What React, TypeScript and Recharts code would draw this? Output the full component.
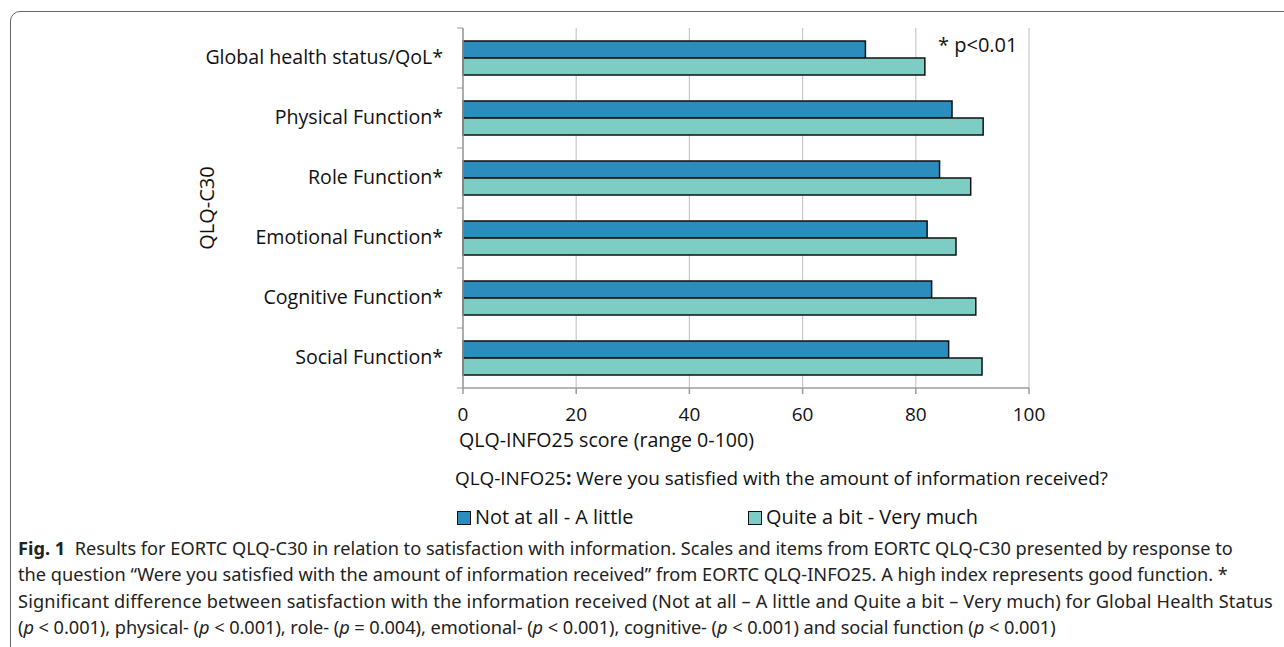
import React from 'react';
import { Bar, BarChart, CartesianGrid, XAxis, YAxis } from 'recharts';

// QLQ-C30 scales, top to bottom
const scales = [
  'Global health status/QoL*',
  'Physical Function*',
  'Role Function*',
  'Emotional Function*',
  'Cognitive Function*',
  'Social Function*',
];
// mean scores by answer to the INFO25 satisfaction item
const notAtAll = [71.1, 86.4, 84.2, 82.0, 82.8, 85.8];
const quiteABit = [81.6, 91.9, 89.7, 87.1, 90.6, 91.7];
const xTicks = [0, 20, 40, 60, 80, 100];

const data = scales.map((name, i) => ({ name, low: notAtAll[i], high: quiteABit[i] }));

const DARK = '#2b8cbe';
const LIGHT = '#7ecdc4';
const AXIS_GRAY = '#9c9c9c';
const FONT = '"Open Sans", "Noto Sans", sans-serif';

const CHART_W = 1100;
const CHART_H = 440;
const TOP = 28;
const AXIS_X = 463;
const X_AXIS_H = 52;
const BAND = (CHART_H - TOP - X_AXIS_H) / scales.length;

function ScaleTick(props: any) {
  const { x, y, payload, index } = props;
  const top = y - BAND / 2;
  return (
    <g>
      <line x1={AXIS_X - 6} x2={AXIS_X} y1={top} y2={top} stroke={AXIS_GRAY} />
      {index === scales.length - 1 && (
        <line x1={AXIS_X - 6} x2={AXIS_X} y1={top + BAND} y2={top + BAND} stroke={AXIS_GRAY} />
      )}
      <text x={x} y={y} dy="0.32em" textAnchor="end" fontSize={19.6} fill="#111" fontFamily={FONT}>
        {payload.value}
      </text>
    </g>
  );
}

function Swatch({ color }: { color: string }) {
  return (
    <span
      style={{
        display: 'inline-block',
        width: 12,
        height: 12,
        background: color,
        border: '1px solid #111',
        marginRight: 4,
        verticalAlign: -1,
      }}
    />
  );
}

export default function App() {
  return (
    <div
      style={{
        position: 'absolute',
        left: 0,
        top: 0,
        width: 1284,
        height: 647,
        overflow: 'hidden',
        background: '#fff',
        fontFamily: FONT,
        color: '#111',
      }}
    >
      <div
        style={{
          position: 'absolute',
          left: 10,
          top: 11,
          width: 1400,
          height: 800,
          border: '1px solid #666',
          borderRadius: 10,
        }}
      />
      <div style={{ position: 'absolute', left: 0, top: 0 }}>
        <BarChart
          width={CHART_W}
          height={CHART_H}
          data={data}
          layout="vertical"
          margin={{ top: TOP, right: CHART_W - 1029, left: 0, bottom: 0 }}
          barGap={0}
        >
          <CartesianGrid horizontal={false} stroke="#c8c8c8" strokeWidth={1.2} />
          <XAxis
            type="number"
            domain={[0, 100]}
            ticks={xTicks}
            height={X_AXIS_H}
            stroke={AXIS_GRAY}
            strokeWidth={1.5}
            tickSize={6}
            tickMargin={14}
            tick={{ fontSize: 19, fill: '#111', fontFamily: FONT }}
          />
          <YAxis
            type="category"
            dataKey="name"
            width={AXIS_X}
            stroke={AXIS_GRAY}
            strokeWidth={1.5}
            tickLine={false}
            tickSize={6}
            tickMargin={14}
            tick={<ScaleTick />}
          />
          <Bar dataKey="low" fill={DARK} stroke="#111" strokeWidth={1.5} barSize={17} isAnimationActive={false} />
          <Bar dataKey="high" fill={LIGHT} stroke="#111" strokeWidth={1.5} barSize={17} isAnimationActive={false} />
        </BarChart>
      </div>

      <div
        style={{
          position: 'absolute',
          left: 207 - 50,
          top: 208 - 13,
          width: 100,
          textAlign: 'center',
          fontSize: 20,
          lineHeight: '26px',
          transform: 'rotate(-90deg)',
        }}
      >
        QLQ-C30
      </div>

      <div style={{ position: 'absolute', left: 938, top: 32, fontSize: 20, lineHeight: '26px' }}>* p&lt;0.01</div>

      <div style={{ position: 'absolute', left: 459, top: 427, fontSize: 19.6, lineHeight: '26px' }}>
        QLQ-INFO25 score (range 0-100)
      </div>

      <div style={{ position: 'absolute', left: 455, top: 466, fontSize: 18.9, lineHeight: '24px' }}>
        QLQ-INFO25<b>:</b> Were you satisfied with the amount of information received?
      </div>

      <div style={{ position: 'absolute', left: 457, top: 505, fontSize: 19.9, lineHeight: '24px' }}>
        <Swatch color={DARK} />
        Not at all - A little
      </div>
      <div style={{ position: 'absolute', left: 748, top: 505, fontSize: 19.9, lineHeight: '24px' }}>
        <Swatch color={LIGHT} />
        Quite a bit - Very much
      </div>

      <div
        style={{
          position: 'absolute',
          left: 18,
          top: 535,
          width: 1266,
          fontFamily: '"Noto Sans", sans-serif',
          fontSize: 18.2,
          lineHeight: '26.3px',
          color: '#222',
          whiteSpace: 'nowrap',
        }}
      >
        <div>
          <b>Fig. 1</b>&nbsp;&nbsp;Results for EORTC QLQ-C30 in relation to satisfaction with information. Scales and items from EORTC QLQ-C30 presented by response to
        </div>
        <div>
          the question “Were you satisfied with the amount of information received” from EORTC QLQ-INFO25. A high index represents good function. *
        </div>
        <div style={{ letterSpacing: 0.15 }}>
          Significant difference between satisfaction with the information received (Not at all – A little and Quite a bit – Very much) for Global Health Status
        </div>
        <div style={{ letterSpacing: -0.05 }}>
          (<i>p</i> &lt; 0.001), physical- (<i>p</i> &lt; 0.001), role- (<i>p</i> = 0.004), emotional- (<i>p</i> &lt; 0.001), cognitive- (<i>p</i> &lt; 0.001) and social function (<i>p</i> &lt; 0.001)
        </div>
      </div>
    </div>
  );
}
